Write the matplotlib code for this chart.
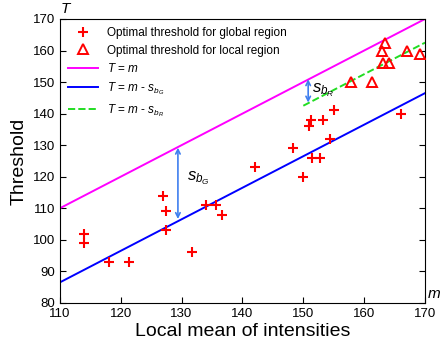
import matplotlib
matplotlib.use("Agg")
import matplotlib.pyplot as plt
import numpy as np

plt.rcParams["font.family"] = ["Liberation Sans", "DejaVu Sans"]
plt.rcParams["mathtext.fontset"] = "custom"
plt.rcParams["mathtext.it"] = "Liberation Sans:italic"
plt.rcParams["mathtext.rm"] = "Liberation Sans"

# Optimal thresholds, global region (local mean m, threshold T)
glob_m = [114, 114, 118, 121.3, 127, 127.5, 127.5, 131.7, 134, 135.6, 136.7,
          142, 148.3, 149.9, 151, 151.2, 153.2, 155, 154.4, 151.5, 152.7, 166]
glob_T = [102, 99, 93, 93, 114, 109, 103, 96, 111, 111, 108,
          123, 129, 120, 136, 138, 138, 141, 132, 126, 126, 140]

# Optimal thresholds, local region
loc_m = [157.8, 161.3, 163.1, 164, 163, 163.5, 167, 169.2]
loc_T = [150, 150, 156, 156, 160, 162.5, 160, 159]

# Reference lines
line_m = np.array([110, 170])
green_m = np.array([150, 170])
s_bG = 23.5
s_bR = 7.5

fig = plt.figure(figsize=(4.4, 3.45), dpi=100)
ax = fig.add_axes([0.136, 0.122, 0.830, 0.823])

ax.plot(glob_m, glob_T, "+", color="red", markersize=7, mew=1.5,
        label="Optimal threshold for global region", zorder=4)
ax.plot(loc_m, loc_T, "^", color="red", markerfacecolor="none", markersize=7.5, mew=1.4,
        label="Optimal threshold for local region", zorder=4)
ax.plot(line_m, line_m, color="#ff00ff", lw=1.4, label="$T$ = $m$")
ax.plot(line_m, line_m - s_bG, color="#0000ff", lw=1.4, label="$T$ = $m$ - $s_{b_G}$")
ax.plot(green_m, green_m - s_bR, "--", color="#22dd22", lw=1.4, label="$T$ = $m$ - $s_{b_R}$")

arrow_col = "#3f7fef"
ax.annotate("", xy=(129.4, 129.2), xytext=(129.4, 106.6),
            arrowprops=dict(arrowstyle="<->", color=arrow_col, lw=1.2,
                            shrinkA=0, shrinkB=0, mutation_scale=8))
ax.annotate("", xy=(150.8, 150.9), xytext=(150.8, 143.5),
            arrowprops=dict(arrowstyle="<->", color=arrow_col, lw=1.2,
                            shrinkA=0, shrinkB=0, mutation_scale=8))
ax.text(130.9, 119.5, "$s_{b_G}$", fontsize=12, va="center", ha="left")
ax.text(151.5, 147.5, "$s_{b_R}$", fontsize=12, va="center", ha="left")

ax.set_xlim(110, 170)
ax.set_ylim(80, 170)
ax.set_xticks(range(110, 171, 10))
ax.set_yticks(range(80, 171, 10))
ax.tick_params(direction="in", length=4, labelsize=9.5, top=False, right=True)
ax.set_xlabel("Local mean of intensities", fontsize=14, labelpad=2)
ax.set_ylabel("Threshold", fontsize=14, labelpad=4)

ax.text(0.0, 1.01, "$T$", transform=ax.transAxes, fontsize=11, ha="left", va="bottom")
ax.text(1.006, 0.03, "$m$", transform=ax.transAxes, fontsize=11, ha="left", va="center")

ax.legend(loc="upper left", frameon=False, fontsize=8.5, labelspacing=0.45,
          handlelength=2.5, borderaxespad=0.3, bbox_to_anchor=(0.0, 1.0))

fig.savefig("out.png", dpi=100)
